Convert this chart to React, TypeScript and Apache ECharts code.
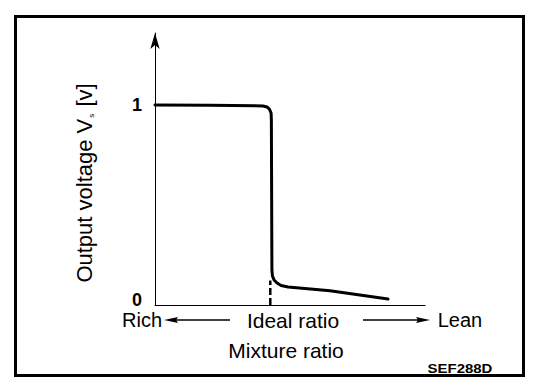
import React, { useEffect, useRef } from "react";
import * as echarts from "echarts";

// Mixture ratio position (0 = far rich, 100 = far lean), output voltage in V
const curveX = [0, 20, 40, 41.5, 42.4, 43.0, 43.1, 43.3, 43.5, 44.1, 45.2, 46.7, 49.3, 64.8, 86.3];
const curveY = [1.0, 0.998, 0.995, 0.99, 0.978, 0.958, 0.923, 0.154, 0.123, 0.103, 0.087, 0.074, 0.067, 0.048, 0.005];
const idealX = [42.7, 42.7];
const idealY = [-0.0256, 0.1];
const yTickValues = [0, 1];
const rowLabels = ["Rich", "Ideal ratio", "Lean"];
const xTitle = "Mixture ratio";
const yTitleMain = "Output voltage V";
const yTitleSub = "s";
const yTitleUnit = " [v]";
const codeLabel = "SEF288D";

const FONT = "'Liberation Sans', Arial, Helvetica, sans-serif";

export default function App() {
  const ref = useRef<HTMLDivElement>(null);
  useEffect(() => {
    if (!ref.current) return;
    const chart = echarts.init(ref.current, undefined, { renderer: "svg" });
    const curve = curveX.map((x, i) => [x, curveY[i]]);
    const ideal = idealX.map((x, i) => [x, idealY[i]]);
    chart.setOption({
      animation: false,
      backgroundColor: "#fff",
      grid: { left: 155, right: 135, top: 33, bottom: 85 },
      xAxis: {
        type: "value",
        min: 0,
        max: 100,
        axisLine: { show: true, onZero: false, lineStyle: { color: "#000", width: 1 } },
        axisTick: { show: false },
        axisLabel: { show: false },
        splitLine: { show: false },
      },
      yAxis: {
        type: "value",
        min: -0.0256,
        max: 1.369,
        axisLine: {
          show: true,
          onZero: false,
          symbol: ["none", "arrow"],
          symbolSize: [7, 16],
          lineStyle: { color: "#000", width: 1 },
        },
        axisTick: { show: false },
        splitLine: { show: false },
        axisLabel: {
          customValues: yTickValues,
          color: "#000",
          fontSize: 18,
          fontWeight: "bold",
          fontFamily: FONT,
          margin: 13,
        },
      },
      series: [
        {
          type: "line",
          data: ideal,
          symbol: "none",
          lineStyle: { color: "#000", width: 2.5, type: [7, 3] },
          z: 1,
        },
        {
          type: "line",
          data: curve,
          symbol: "none",
          smooth: false,
          lineStyle: { color: "#000", width: 3, join: "round", cap: "round" },
          z: 2,
        },
      ],
      graphic: [
        {
          type: "rect",
          shape: { x: 15.5, y: 16.5, width: 508, height: 359 },
          style: { fill: "none", stroke: "#000", lineWidth: 3 },
        },
        {
          type: "text",
          x: 84,
          y: 183,
          rotation: Math.PI / 2,
          style: {
            text: `{a|${yTitleMain}}{s|${yTitleSub}}{a|${yTitleUnit}}`,
            align: "center",
            verticalAlign: "middle",
            rich: {
              a: { fontSize: 22, fontFamily: FONT, fill: "#000" },
              s: { fontSize: 8, fontFamily: FONT, fill: "#000", verticalAlign: "bottom", padding: [0, 1, 0, 1] },
            },
          },
        },
        {
          type: "text",
          x: 142,
          y: 320,
          style: { text: rowLabels[0], fontSize: 20, fontFamily: FONT, fill: "#000", align: "center", verticalAlign: "middle" },
        },
        {
          type: "text",
          x: 293,
          y: 320,
          style: { text: rowLabels[1], fontSize: 21, fontFamily: FONT, fill: "#000", align: "center", verticalAlign: "middle" },
        },
        {
          type: "text",
          x: 460,
          y: 320,
          style: { text: rowLabels[2], fontSize: 20, fontFamily: FONT, fill: "#000", align: "center", verticalAlign: "middle" },
        },
        {
          type: "text",
          x: 286,
          y: 350,
          style: { text: xTitle, fontSize: 21, fontFamily: FONT, fill: "#000", align: "center", verticalAlign: "middle" },
        },
        {
          type: "text",
          x: 460,
          y: 368,
          scaleX: 1.15,
          style: { text: codeLabel, fontSize: 13, fontWeight: "bold", fontFamily: FONT, fill: "#000", align: "center", verticalAlign: "middle" },
        },
        {
          type: "line",
          shape: { x1: 174, y1: 320, x2: 230, y2: 320 },
          style: { stroke: "#000", lineWidth: 1.5 },
        },
        {
          type: "polygon",
          shape: { points: [[164, 320], [178, 317], [176, 320], [178, 323]] },
          style: { fill: "#000" },
        },
        {
          type: "line",
          shape: { x1: 363, y1: 320, x2: 420, y2: 320 },
          style: { stroke: "#000", lineWidth: 1.5 },
        },
        {
          type: "polygon",
          shape: { points: [[430, 320], [416, 317], [418, 320], [416, 323]] },
          style: { fill: "#000" },
        },
      ],
    });
    return () => chart.dispose();
  }, []);
  return (
    <div
      ref={ref}
      style={{ position: "fixed", left: 0, top: 0, width: 560, height: 390, background: "#fff" }}
    />
  );
}
